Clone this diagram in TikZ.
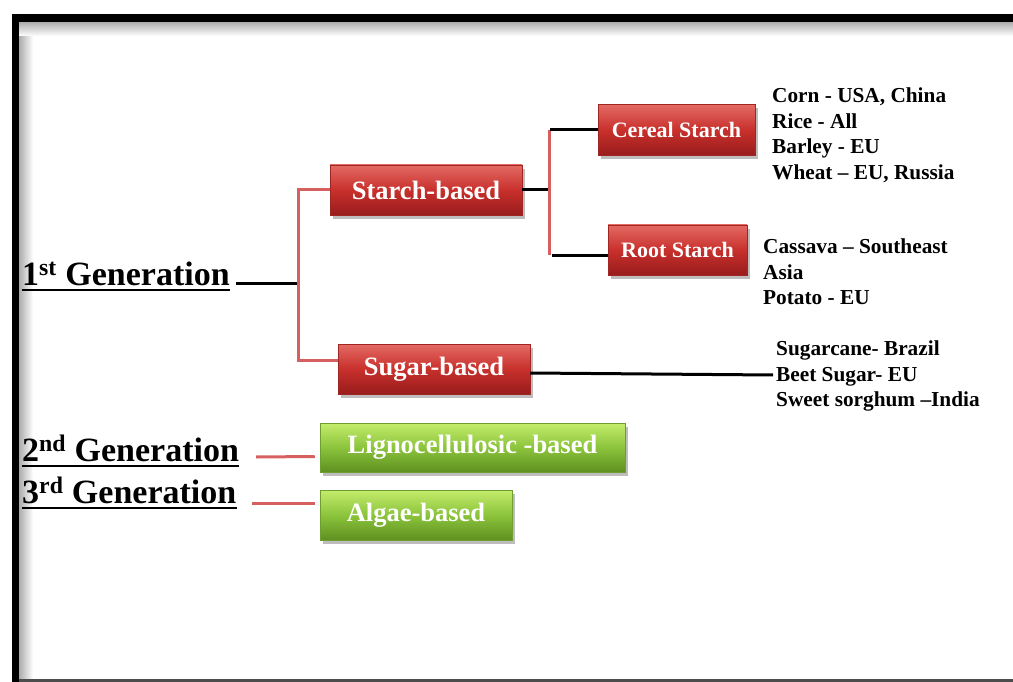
\documentclass[tikz,border=0pt]{standalone}
\usepackage{fontspec}
\setmainfont{Liberation Serif}
\usetikzlibrary{calc,shadows}
\definecolor{boxred}{HTML}{C8302C}
\definecolor{boxredtop}{HTML}{E46A64}
\definecolor{boxredbot}{HTML}{981C1C}
\definecolor{boxgreen}{HTML}{8CC43C}
\definecolor{boxgreentop}{HTML}{C4EC6C}
\definecolor{boxgreenbot}{HTML}{5E9020}
\definecolor{linkred}{HTML}{D66060}
\tikzset{
  basebox/.style={rectangle, inner sep=0pt, text=white,
    drop shadow={opacity=0.4, shadow xshift=3pt, shadow yshift=-4pt, fill=gray!70!black}},
  redbox/.style={basebox, top color=boxredtop, bottom color=boxredbot, middle color=boxred, draw=boxred!80!black, line width=0.5pt},
  greenbox/.style={basebox, top color=boxgreentop, bottom color=boxgreenbot, middle color=boxgreen, draw=boxgreen!80!black, line width=0.5pt},
  bigtxt/.style={font=\bfseries\fontsize{26.5}{30}\selectfont},
  smalltxt/.style={font=\bfseries\fontsize{22}{26}\selectfont},
  gentxt/.style={font=\bfseries\fontsize{34}{40}\selectfont, inner sep=0pt, anchor=base west},
  listtxt/.style={font=\bfseries\fontsize{21.3}{25.5}\selectfont, align=left, inner sep=0pt, anchor=north west},
  redlink/.style={draw=linkred, line width=3pt},
  blacklink/.style={draw=black, line width=3pt},
  underl/.style={draw=black, line width=2.5pt}
}
\begin{document}
\begin{tikzpicture}[x=1pt,y=-1pt]
\useasboundingbox (0,0) rectangle (1013,682);
% frame
\shade[left color=gray!65, right color=white] (19,22) rectangle (33,679);
\shade[top color=gray!65, bottom color=white] (19,22) rectangle (1013,36);
\fill[black] (12,14) rectangle (1013,22);
\fill[black] (12,14) rectangle (19,682);
\fill[gray!60!black] (19,679) rectangle (1013,682);

% boxes
\node[redbox, bigtxt, minimum width=192pt, minimum height=50pt] (starch) at (426,190) {Starch-based};
\node[redbox, bigtxt, minimum width=192pt, minimum height=50pt] (sugar) at (434,369) {Sugar-based};
\node[redbox, smalltxt, minimum width=157pt, minimum height=51pt] (cereal) at (676.5,130) {Cereal Starch};
\node[redbox, smalltxt, minimum width=139pt, minimum height=50pt] (root) at (677.5,250) {Root Starch};
\node[greenbox, bigtxt, minimum width=305pt, minimum height=49pt] (ligno) at (472.5,447.5) {Lignocellulosic -based};
\node[greenbox, bigtxt, minimum width=192pt, minimum height=50pt] (algae) at (416,515) {Algae-based};

% generation labels
\node[gentxt] (g1) at (22,285) {1\textsuperscript{st} Generation};
\node[gentxt] (g2) at (22,461) {2\textsuperscript{nd} Generation};
\node[gentxt] (g3) at (22,503) {3\textsuperscript{rd} Generation};
\foreach \g in {g1,g2,g3}{
  \draw[underl] ($(\g.base west)+(0,5)$) -- ($(\g.base east)+(0,5)$);
}

% lists
\node[listtxt] (clist) at (772,88) {Corn - USA, China\\Rice - All\\Barley - EU\\Wheat -- EU, Russia};
\node[listtxt] (rlist) at (763,239) {Cassava -- Southeast\\Asia\\Potato - EU};
\node[listtxt] (slist) at (776,341) {Sugarcane- Brazil\\Beet Sugar- EU\\Sweet sorghum --India};

% connectors
\coordinate (f1) at (298,283);
\draw[blacklink] ($(g1.base east)+(6,-2)$) -- (f1);
\draw[redlink] (starch.west) -| (f1) |- ($(sugar.west)+(0,-9)$);
\coordinate (f2) at (549,190);
\draw[blacklink] (starch.east) -- (f2);
\draw[redlink] (f2 |- cereal.west) -- ($(f2 |- root.west)+(0,5)$);
\draw[blacklink] ($(f2 |- cereal.west)+(1,0)$) -- (cereal.west);
\draw[blacklink] ($(f2 |- root.west)+(3,5)$) -- ($(root.west)+(0,5)$);
\coordinate (send) at (773,375);
\draw[blacklink] ($(sugar.east)+(0,4)$) -- (send);
\draw[redlink] ($(g2.base east)+(17,-4)$) -- ($(ligno.west)+(-5,9)$);
\draw[redlink] ($(g3.base east)+(15,0)$) -- ($(algae.west)+(-5,-12)$);
\end{tikzpicture}
\end{document}
